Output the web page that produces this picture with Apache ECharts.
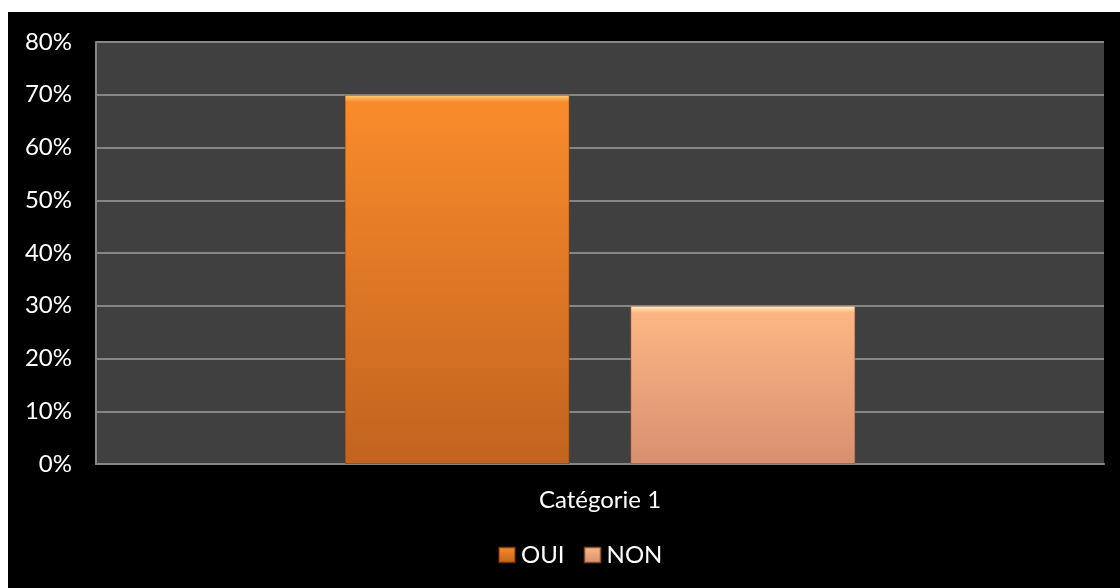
<!DOCTYPE html>
<html>
<head>
<meta charset="utf-8">
<script src="https://cdn.jsdelivr.net/npm/echarts@6/dist/echarts.min.js"></script>
<style>
  html, body { margin: 0; padding: 0; background: #fff; }
  #chart { position: absolute; left: 8px; top: 12px; width: 1112px; height: 576px; background: #000; }
</style>
</head>
<body>
<div id="chart"></div>
<script>
const categories = ['Catégorie 1']
const ouiValues = [70]
const nonValues = [30]
const yTicks = { min: 0, max: 80, interval: 10 }

// bevel-ish look: bright strip on top, then darkening towards the bottom
function barGradient (edge, top, bottom, bevel) {
  return new echarts.graphic.LinearGradient(0, 0, 0, 1, [
    { offset: 0, color: edge },
    { offset: bevel, color: top },
    { offset: 1, color: bottom }
  ], false)
}

const chart = echarts.init(document.getElementById('chart'))
const option = {
  animation: false,
  textStyle: { fontFamily: 'Lato' },
  grid: {
    left: 88,
    right: 16,
    top: 30,
    bottom: 124,
    show: true,
    backgroundColor: '#404040',
    borderWidth: 0
  },
  legend: {
    bottom: 16,
    left: 485,
    icon: 'rect',
    itemWidth: 16,
    itemHeight: 15,
    itemGap: 19,
    textStyle: { color: '#fff', fontSize: 24, padding: [0, 0, 0, 1] },
    data: ['OUI', 'NON']
  },
  xAxis: {
    type: 'category',
    data: categories,
    axisTick: { show: false },
    axisLine: { lineStyle: { color: '#868686', width: 2 } },
    axisLabel: { color: '#fff', fontSize: 24, margin: 24 }
  },
  yAxis: {
    type: 'value',
    min: yTicks.min,
    max: yTicks.max,
    interval: yTicks.interval,
    axisLine: { show: true, lineStyle: { color: '#868686', width: 2 } },
    axisTick: { show: false },
    splitLine: { lineStyle: { color: '#868686', width: 2 } },
    axisLabel: { color: '#fff', fontSize: 24, margin: 24, formatter: '{value}%' }
  },
  series: [
    {
      name: 'OUI',
      type: 'bar',
      barWidth: 225,
      barGap: '27%',
      data: ouiValues,
      itemStyle: {
        color: barGradient('#FFD27A', '#F98B2B', '#C2631F', 0.02),
        borderColor: 'rgba(120,50,0,0.5)',
        borderWidth: 1
      }
    },
    {
      name: 'NON',
      type: 'bar',
      barWidth: 225,
      data: nonValues,
      itemStyle: {
        color: barGradient('#FFF1C4', '#FCB684', '#D88F70', 0.045),
        borderColor: 'rgba(140,80,50,0.5)',
        borderWidth: 1
      }
    }
  ]
}
chart.setOption(option)
window.addEventListener('resize', () => chart.resize())
</script>
</body>
</html>
